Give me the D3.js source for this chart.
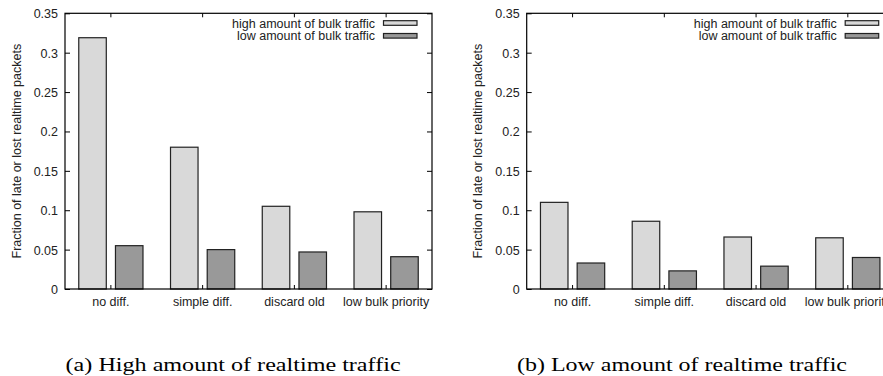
<!DOCTYPE html>
<html>
<head>
<meta charset="utf-8">
<script src="https://cdn.jsdelivr.net/npm/d3@7"></script>
<style>
  html, body { margin: 0; padding: 0; background: #fff; }
  svg { display: block; }
  text { font-family: "Liberation Sans", Arial, sans-serif; fill: #222; }
</style>
</head>
<body>
<svg id="chart" width="883" height="376"></svg>
<script>
// categories and series
const categories = ["no diff.", "simple diff.", "discard old", "low bulk priority"];
const seriesNames = ["high amount of bulk traffic", "low amount of bulk traffic"];

// (a) high amount of realtime traffic
const highRtHighBulk = [0.319, 0.180, 0.105, 0.098];
const highRtLowBulk = [0.055, 0.050, 0.047, 0.041];

// (b) low amount of realtime traffic
const lowRtHighBulk = [0.110, 0.086, 0.066, 0.065];
const lowRtLowBulk = [0.033, 0.023, 0.029, 0.040];

const yTicks = [0, 0.05, 0.1, 0.15, 0.2, 0.25, 0.3, 0.35];
const yTickLabels = ["0", "0.05", "0.1", "0.15", "0.2", "0.25", "0.3", "0.35"];
const yTitle = "Fraction of late or lost realtime packets";
const captions = ["(a) High amount of realtime traffic", "(b) Low amount of realtime traffic"];

const colors = ["#d9d9d9", "#999999"];

const svg = d3.select("#chart");

const panelW = 367;
const plotTop = 13.3, plotBottom = 289;

function drawPanel(offsetX, high, low, caption, capX, capW) {
  const g = svg.append("g").attr("transform", "translate(" + offsetX + ",0)");

  const x = d3.scaleBand()
    .domain(categories)
    .range([0, panelW])
    .padding(0);

  const xSub = d3.scaleBand()
    .domain(seriesNames)
    .range([0.15 * x.bandwidth(), 0.85 * x.bandwidth()])
    .paddingInner(0.25)
    .paddingOuter(0);

  const y = d3.scaleLinear()
    .domain([0, 0.35])
    .range([plotBottom, plotTop]);

  // y axis left with labels
  g.append("g")
    .call(d3.axisLeft(y).tickValues(yTicks).tickSize(-5).tickPadding(7)
      .tickFormat((d, i) => yTickLabels[i]))
    .call(a => a.select(".domain").remove())
    .call(a => a.selectAll("line").attr("stroke", "#000"))
    .call(a => a.selectAll("text").attr("font-size", "12.5px").attr("dy", "0.36em")
      .style("font-family", "'Liberation Sans', Arial, sans-serif").attr("fill", "#222"));

  // mirrored right ticks
  g.append("g")
    .attr("transform", "translate(" + panelW + ",0)")
    .call(d3.axisRight(y).tickValues(yTicks).tickSize(-5).tickFormat(""))
    .call(a => a.select(".domain").remove())
    .call(a => a.selectAll("line").attr("stroke", "#000"));

  // bottom axis
  g.append("g")
    .attr("transform", "translate(0," + plotBottom + ")")
    .call(d3.axisBottom(x).tickSize(-4).tickPadding(8))
    .call(a => a.select(".domain").remove())
    .call(a => a.selectAll("line").attr("stroke", "#000"))
    .call(a => a.selectAll("text").attr("font-size", "12.5px")
      .style("font-family", "'Liberation Sans', Arial, sans-serif").attr("fill", "#222"));

  // top ticks
  g.append("g")
    .attr("transform", "translate(0," + plotTop + ")")
    .call(d3.axisTop(x).tickSize(-4).tickFormat(""))
    .call(a => a.select(".domain").remove())
    .call(a => a.selectAll("line").attr("stroke", "#000"));

  // bars
  const rows = categories.map((c, i) => ({ cat: c, values: [high[i], low[i]] }));
  const grp = g.selectAll(".cat")
    .data(rows)
    .enter()
    .append("g")
    .attr("class", "cat")
    .attr("transform", d => "translate(" + x(d.cat) + ",0)");

  grp.selectAll("rect")
    .data(d => d.values.map((v, k) => ({ key: seriesNames[k], v: v, k: k })))
    .enter()
    .append("rect")
    .attr("x", d => xSub(d.key))
    .attr("y", d => y(d.v))
    .attr("width", xSub.bandwidth())
    .attr("height", d => plotBottom - y(d.v))
    .attr("fill", d => colors[d.k])
    .attr("stroke", "#222")
    .attr("stroke-width", 1.2);

  // frame
  g.append("rect")
    .attr("x", 0).attr("y", plotTop)
    .attr("width", panelW).attr("height", plotBottom - plotTop)
    .attr("fill", "none")
    .attr("stroke", "#000")
    .attr("stroke-width", 1.2);

  // legend
  seriesNames.forEach((name, k) => {
    const ly = 23 + k * 12.8;
    g.append("text")
      .attr("x", panelW - 57)
      .attr("y", ly)
      .attr("dy", "0.36em")
      .attr("text-anchor", "end")
      .attr("font-size", "12.5px")
      .text(name);
    g.append("rect")
      .attr("x", panelW - 48.5)
      .attr("y", ly - 2.3)
      .attr("width", 33.5)
      .attr("height", 4.6)
      .attr("fill", colors[k])
      .attr("stroke", "#222")
      .attr("stroke-width", 1.2);
  });

  // y title
  g.append("text")
    .attr("transform", "translate(-44.5," + ((plotTop + plotBottom) / 2) + ") rotate(-90)")
    .attr("text-anchor", "middle")
    .attr("font-size", "12.5px")
    .text(yTitle);

  // caption
  svg.append("text")
    .attr("x", capX)
    .attr("y", 371)
    .attr("font-size", "18.5px")
    .attr("textLength", capW)
    .attr("lengthAdjust", "spacingAndGlyphs")
    .style("font-family", "'Liberation Serif', 'Times New Roman', serif")
    .style("fill", "#000")
    .text(caption);
}

drawPanel(65, highRtHighBulk, highRtLowBulk, captions[0], 65.6, 335);
drawPanel(526.7, lowRtHighBulk, lowRtLowBulk, captions[1], 517, 330);
</script>
</body>
</html>
